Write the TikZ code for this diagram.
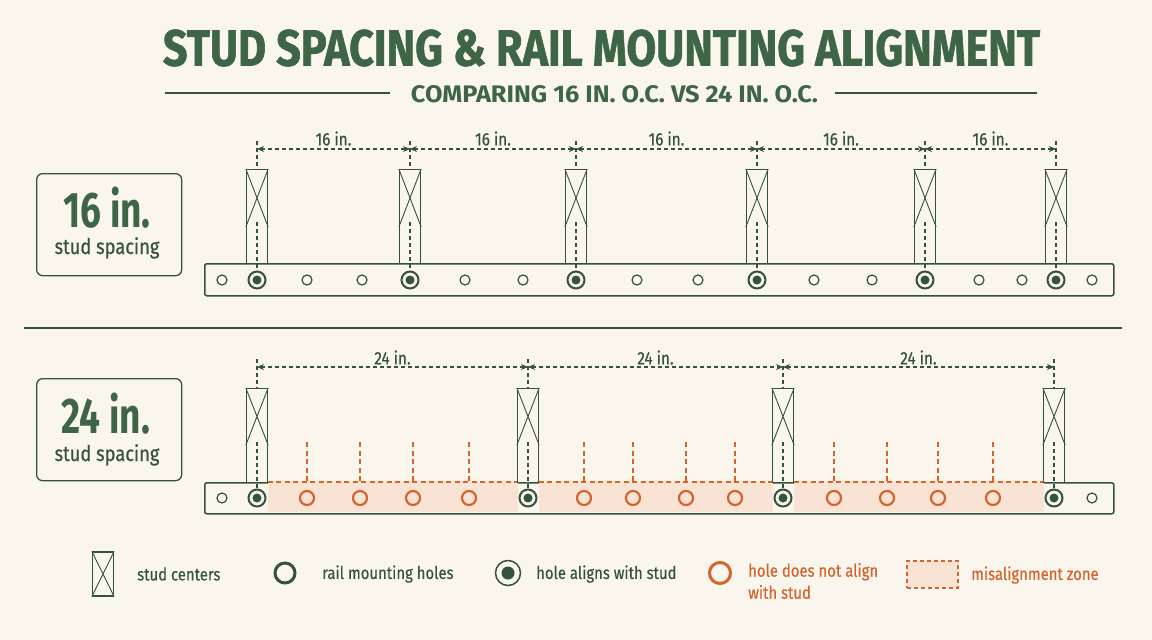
\documentclass[tikz,border=0pt]{standalone}
\usepackage{fontspec}
\usepackage{graphicx}
\setmainfont{Fira Sans}[FakeStretch=0.85,FakeBold=0.35]
\newfontfamily\cond{Fira Sans}[FakeStretch=0.74]
\newfontfamily\heavy{Fira Sans}[BoldFeatures={FakeBold=1.4}]
\newfontfamily\subf{Fira Sans}[FakeStretch=0.85]
\usetikzlibrary{arrows.meta,calc}
\definecolor{bg}{HTML}{FAF6EE}
\definecolor{grn}{HTML}{3F6547}
\definecolor{dgrn}{HTML}{33533A}
\definecolor{org}{HTML}{D2642C}
\definecolor{zonec}{HTML}{F8E3D4}
\begin{document}
\begin{tikzpicture}[x=1pt,y=-1pt,
  studbox/.style={draw=dgrn,line width=1.3pt,fill=bg,minimum width=21pt,inner sep=0pt,anchor=north},
  railbox/.style={draw=dgrn,line width=1.5pt,rounded corners=2pt,minimum width=909pt,anchor=north west,inner sep=0pt},
  dimline/.style={draw=dgrn,line width=1.1pt,dash pattern=on 4pt off 3pt,{Stealth[length=7pt,width=6pt]}-{Stealth[length=7pt,width=6pt]}},
  extline/.style={draw=dgrn,line width=1.1pt,dash pattern=on 4pt off 3pt},
  orgline/.style={draw=org,line width=1.1pt,dash pattern=on 5pt off 3.5pt},
  hole/.style={circle,draw=dgrn,line width=1.2pt,fill=bg,minimum size=10pt,inner sep=0pt},
  alignhole/.style={circle,draw=dgrn,line width=2pt,fill=bg,minimum size=17pt,inner sep=0pt},
  dot/.style={circle,fill=dgrn,minimum size=9pt,inner sep=0pt},
  badhole/.style={circle,draw=org,line width=2.2pt,minimum size=14pt,inner sep=0pt},
  dimlabel/.style={text=dgrn,font=\fontsize{18}{18}\selectfont,inner sep=0pt},
  leg/.style={text=dgrn,font=\fontsize{17.5}{22}\selectfont,inner sep=0pt,anchor=west},
  sidebox/.style={draw=dgrn,line width=1.3pt,rounded corners=6pt,minimum width=145pt,minimum height=102pt,anchor=north west,inner sep=0pt}
]
\fill[bg] (0,0) rectangle (1152,640);
\useasboundingbox (0,0) rectangle (1152,640);

% title
\node[text=grn,inner sep=0pt] (title) at (601.5,48) {\resizebox{877pt}{36pt}{\heavy\bfseries STUD SPACING \& RAIL MOUNTING ALIGNMENT}};
\node[text=grn,inner sep=0pt] (subtitle) at (614.5,94.5) {\resizebox{407pt}{17pt}{\subf\bfseries COMPARING 16 IN. O.C. VS 24 IN. O.C.}};
\coordinate (sl1) at (165,93); \coordinate (sl2) at (390,93);
\coordinate (sr1) at (835,93); \coordinate (sr2) at (1037,93);
\draw[dgrn,line width=1.2pt] (sl1) -- (sl2) (sr1) -- (sr2);

% side boxes
\node[sidebox] (box16) at (36,173) {};
\node[text=grn,inner sep=0pt,anchor=base] (big16) at (107,227) {\cond\fontsize{50}{50}\selectfont\bfseries 16 in.};
\node[text=dgrn,inner sep=0pt,anchor=base] (ss16) at (107,254) {\fontsize{21.5}{21.5}\selectfont stud spacing};
\node[sidebox] (box24) at (36,378) {};
\node[text=grn,inner sep=0pt,anchor=base] (big24) at (106,433) {\cond\fontsize{50}{50}\selectfont\bfseries 24 in.};
\node[text=dgrn,inner sep=0pt,anchor=base] (ss24) at (107,461) {\fontsize{21.5}{21.5}\selectfont stud spacing};

% divider
\coordinate (dv1) at (24,328); \coordinate (dv2) at (1122,328);
\draw[dgrn,line width=1.2pt] (dv1) -- (dv2);

% ===== top row (16 in.) =====
\node[railbox,minimum height=32pt] (rtop) at (204,263) {};
\foreach \x [count=\i] in {257,410,576,757,925,1056}{
  \node[studbox,minimum height=94pt] (t\i) at (\x,169) {};
  \draw[dgrn,line width=0.9pt] (t\i.north west) -- ($(t\i.north east)+(0,58)$)
                               (t\i.north east) -- ($(t\i.north west)+(0,58)$);
  \coordinate (te\i) at (\x,141);
  \coordinate (td\i) at (\x,149);
  \coordinate (tc\i) at (\x,222);
  \draw[extline] (te\i) -- (t\i.north);
  \draw[extline] (tc\i) -- (\x,273);
  \node[alignhole] (ha\i) at (\x,280) {};
  \node[dot] at (ha\i) {};
}
\foreach \i/\j in {1/2,2/3,3/4,4/5,5/6}
  \draw[dimline] (td\i) -- (td\j) node[midway,yshift=10.5pt,dimlabel] {16 in.};
\foreach \x [count=\i] in {222,307,362,465,523,637,698,814,872,979,1022,1092}
  \node[hole] (hp\i) at (\x,280) {};

% ===== bottom row (24 in.) =====
\node[railbox,minimum height=31pt] (rbot) at (204,482) {};
\foreach \a/\b in {267.5/517.5,538.5/772.5,793.5/1043.5}{
  \fill[zonec] (\a,481.3) rectangle (\b,512.2);
  \draw[orgline] (\a,482) -- (\b,482);
}
\foreach \x [count=\i] in {257,528,783,1054}{
  \node[studbox,minimum height=94pt] (b\i) at (\x,388) {};
  \draw[dgrn,line width=0.9pt] (b\i.north west) -- ($(b\i.north east)+(0,57)$)
                               (b\i.north east) -- ($(b\i.north west)+(0,57)$);
  \coordinate (be\i) at (\x,359);
  \coordinate (bd\i) at (\x,367);
  \coordinate (bc\i) at (\x,442);
  \draw[extline] (be\i) -- (b\i.north);
  \draw[extline] (bc\i) -- (\x,490);
  \node[alignhole] (hb\i) at (\x,498) {};
  \node[dot] at (hb\i) {};
}
\foreach \i/\j in {1/2,2/3,3/4}
  \draw[dimline] (bd\i) -- (bd\j) node[midway,yshift=9.5pt,dimlabel] {24 in.};
\node[hole] (hq1) at (222,498) {};
\node[hole] (hq2) at (1092,498) {};
\foreach \x [count=\i] in {307,360,413,469,584,633,686,735,834,887,938,993}{
  \coordinate (ot\i) at (\x,442);
  \coordinate (ob\i) at (\x,482);
  \draw[orgline] (ot\i) -- (ob\i);
  \node[badhole] (ho\i) at (\x,498) {};
}

% ===== legend =====
\node[draw=dgrn,line width=1.3pt,minimum width=21pt,minimum height=44pt,inner sep=0pt] (lstud) at (103,574) {};
\draw[dgrn,line width=0.9pt] (lstud.north west) -- (lstud.south east) (lstud.north east) -- (lstud.south west);
\node[leg] (lt1) at (137,574) {stud centers};
\node[circle,draw=dgrn,line width=3pt,minimum size=20pt,inner sep=0pt] (lhole) at (285,573) {};
\node[leg] (lt2) at (322,574) {rail mounting holes};
\node[circle,draw=dgrn,line width=1.5pt,minimum size=25pt,inner sep=0pt] (lal) at (508,573) {};
\node[dot,minimum size=13pt] at (lal) {};
\node[leg] (lt3) at (536,574) {hole aligns with stud};
\node[circle,draw=org,line width=3pt,minimum size=21pt,inner sep=0pt] (lbad) at (720,573) {};
\node[leg,text=org,align=left] (lt4) at (748,581) {hole does not align\\with stud};
\node[draw=org,fill=zonec,line width=1.1pt,dash pattern=on 4pt off 3pt,minimum width=51pt,minimum height=27pt,inner sep=0pt] (lzone) at (932.5,574.5) {};
\node[leg,text=org] (lt5) at (971,575) {misalignment zone};
\end{tikzpicture}
\end{document}
